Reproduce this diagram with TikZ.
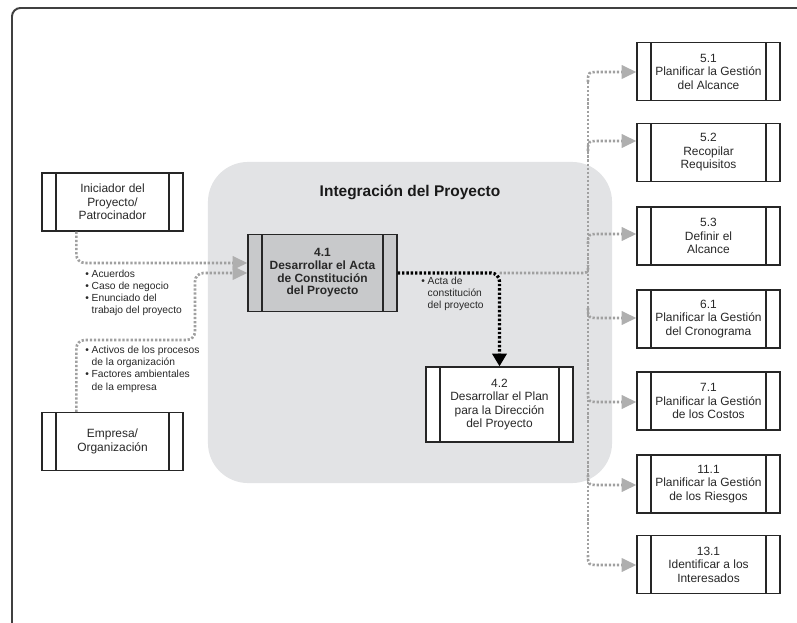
\documentclass[tikz,border=0pt]{standalone}
\usepackage{fontspec}
\setmainfont{Liberation Sans}
\usetikzlibrary{arrows.meta}
\definecolor{pmregion}{RGB}{226,227,229}
\definecolor{pmshade}{RGB}{200,201,203}
\definecolor{pmdots}{RGB}{160,160,160}
\definecolor{pmtip}{RGB}{175,175,175}
\definecolor{pmtext}{RGB}{40,40,40}

\begin{document}
\begin{tikzpicture}[x=0.025cm,y=-0.025cm]

%
% Styles
%
\tikzstyle{process}  = [draw=black!85,line width=0.9pt,fill=white,minimum width=3.575cm,minimum height=1.45cm,
                        inner sep=1pt,align=center,text=pmtext,font=\fontsize{8.5}{9.6}\selectfont,
                        path picture={
                          \draw[black!85,line width=0.9pt] ([xshift=0.35cm]path picture bounding box.north west) -- ([xshift=0.35cm]path picture bounding box.south west);
                          \draw[black!85,line width=0.9pt] ([xshift=-0.35cm]path picture bounding box.north east) -- ([xshift=-0.35cm]path picture bounding box.south east);}]
\tikzstyle{region}   = [fill=pmregion,rounded corners=1cm,minimum width=10.1cm,minimum height=8.025cm]
\tikzstyle{title}    = [font=\bfseries\fontsize{11}{13}\selectfont,text=black!90]
\tikzstyle{inputs}   = [anchor=north west,inner sep=0pt,align=left,text=pmtext,font=\fontsize{7.3}{8.6}\selectfont]
\tikzstyle{graydots} = [draw=pmdots,line width=1.9pt,dash pattern=on 1.6pt off 1.3pt]
\tikzstyle{grayarrow}= [graydots,-{Triangle[length=10.5pt,width=9.5pt,color=pmtip]}]
\tikzstyle{blackdots}= [draw=black,line width=2.3pt,dash pattern=on 1.7pt off 1.4pt,rounded corners=6pt,
                        -{Triangle[length=9pt,width=10pt,color=black]}]

\useasboundingbox (0,0) rectangle (797,623);

% frame
\draw[black!75,line width=1.4pt,rounded corners=6pt] (12,623) -- (12,8) -- (797,8);

% integration area
\node[region] (integ) at (410,322.5) {};
\node[title] (titulo) at (410,192) {Integración del Proyecto};

% processes
\node[process,fill=pmshade,minimum width=3.725cm,minimum height=1.925cm,font=\bfseries\fontsize{8.5}{9}\selectfont]
  (a41) at (322.5,273) {4.1\\Desarrollar el Acta\\de Constitución\\del Proyecto};
\node[process,minimum width=3.675cm,minimum height=1.875cm]
  (a42) at (499.5,404.5) {4.2\\Desarrollar el Plan\\para la Dirección\\del Proyecto};

\node[process,minimum width=3.525cm] (ini) at (112.5,202)   {Iniciador del\\Proyecto/\\Patrocinador};
\node[process,minimum width=3.525cm] (emp) at (112.5,441.5) {Empresa/\\Organización};

\node[process] (s51)  at (708.5,71.5)  {5.1\\Planificar la Gestión\\del Alcance};
\node[process] (s52)  at (708.5,152.5) {5.2\\Recopilar\\Requisitos};
\node[process] (s53)  at (708.5,236)   {5.3\\Definir el\\Alcance};
\node[process] (s61)  at (708.5,319)   {6.1\\Planificar la Gestión\\del Cronograma};
\node[process] (s71)  at (708.5,401)   {7.1\\Planificar la Gestión\\de los Costos};
\node[process] (s111) at (708.5,484)   {11.1\\Planificar la Gestión\\de los Riesgos};
\node[process] (s131) at (708.5,564.5) {13.1\\Identificar a los\\Interesados};

% inputs
\draw[grayarrow,rounded corners=6pt] ([xshift=0.875cm]ini.south west) |- ([yshift=0.25cm]a41.west);
\draw[grayarrow,rounded corners=6pt] ([xshift=0.875cm]emp.north west) |- (195,340) |- (a41.west);

\node[inputs] (in1) at (85,270) {\textbullet~Acuerdos\\\textbullet~Caso de negocio\\\textbullet~Enunciado del\\\hphantom{\textbullet~}trabajo del proyecto};
\node[inputs] (in2) at (85,346) {\textbullet~Activos de los procesos\\\hphantom{\textbullet~}de la organización\\\textbullet~Factores ambientales\\\hphantom{\textbullet~}de la empresa};

% outputs
\draw[blackdots] (a41.east) -- (a42.north |- a41.east) -- (a42.north);
\node[inputs] (out1) at (421,277) {\textbullet~Acta de\\\hphantom{\textbullet~}constitución\\\hphantom{\textbullet~}del proyecto};

\coordinate (trunktop) at (588,82);
\coordinate (trunkbot) at (588,555);
\draw[graydots] (a42.north |- a41.east) -- (580,273) .. controls (588,273) .. (588,265);
\draw[graydots] (trunktop) -- (trunkbot);
\foreach \n/\y/\s in {s51/72/1,s52/141/1,s53/234/1,s61/318/-1,s71/402/-1,s111/485/-1,s131/565/-1}
  \draw[grayarrow] (588,\y+10*\s) .. controls (588,\y) .. (600,\y) -- (\n.west |- 600,\y);

\end{tikzpicture}
\end{document}
